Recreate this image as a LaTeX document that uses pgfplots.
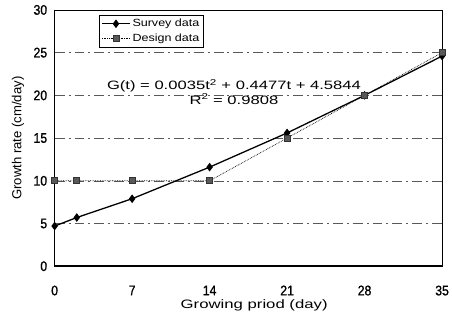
\documentclass[border=0pt]{standalone}
\usepackage{pgfplots}
\pgfplotsset{compat=1.18}
\usepackage{fontspec}
\setmainfont{Liberation Sans}
\newfontfamily\widefont{Liberation Sans}[FakeStretch=1.37]
\newfontfamily\legfont{Liberation Sans}[FakeStretch=1.2]
\newfontfamily\tickfont{Liberation Sans}[FakeStretch=0.88, FakeBold=1]
\begin{document}
\begin{tikzpicture}
\begin{axis}[
  scale only axis,
  width=390pt, height=258pt,
  xmin=0, xmax=35, ymin=0, ymax=30,
  xtick={0,7,14,21,28,35},
  ytick={0,5,10,15,20,25,30},
  major tick length=0pt,
  axis line style={line width=0.7pt},
  ymajorgrids,
  major grid style={black!65, line width=0.5pt, dash pattern=on 10pt off 4pt on 2pt off 4pt},
  /pgf/number format/assume math mode=true,
  tick label style={font=\tickfont\fontsize{14}{15}\selectfont},
  xticklabel style={yshift=-16pt},
  yticklabel style={xshift=-4pt},
  xlabel={Growing priod (day)},
  ylabel={Growth rate (cm/day)},
  xlabel style={font=\widefont\fontsize{12.3}{14}\selectfont, at={(rel axis cs:0.515,0)}, anchor=center, yshift=-39pt},
  ylabel style={font=\fontsize{13.2}{15}\selectfont, at={(rel axis cs:0,0.5)}, anchor=center, yshift=37pt},
  legend style={at={(0.115,0.98)}, anchor=north west, draw=black, line width=0.5pt, font=\legfont\fontsize{10.5}{12}\selectfont, inner sep=2pt, row sep=2pt, cells={anchor=west}},
  legend cell align=left,
  legend image code/.code={\draw[mark repeat=2,mark phase=2,#1] plot coordinates {(0pt,0pt) (14pt,0pt) (28pt,0pt)};},
  clip=false,
]
\coordinate (ll) at (rel axis cs:0,0);
\coordinate (ur) at (rel axis cs:1,1);
\draw[black, line width=1.6pt] (rel axis cs:0,1) -- (rel axis cs:0,0) -- (rel axis cs:1,0);
\addplot[black, line width=1.3pt, mark=diamond*, mark size=3.3pt, mark options={solid, fill=black}]
  coordinates {(0,4.7) (2,5.7) (7,7.9) (14,11.6) (21,15.6) (28,20) (35,24.6)};
\addlegendentry{Survey data}
\addplot[black, line width=0.7pt, densely dotted, mark=square*, mark size=3pt, mark options={solid, fill=black!65, draw=black!80}]
  coordinates {(0,10) (2,10) (7,10) (14,10) (21,15) (28,20) (35,25)};
\addlegendentry{Design data}
\node[font=\widefont\fontsize{12.2}{14.5}\selectfont, align=center, anchor=center] at (axis cs:16.2,20.4)
  {G(t) = 0.0035t\textsuperscript{2} + 0.4477t + 4.5844\\ R\textsuperscript{2} = 0.9808};
\end{axis}
\path (ll) ++(-55pt,-52pt) coordinate (a);
\path (ur) ++(10pt,10pt) coordinate (b);
\pgfresetboundingbox
\useasboundingbox (a) rectangle (b);
\end{tikzpicture}
\end{document}
